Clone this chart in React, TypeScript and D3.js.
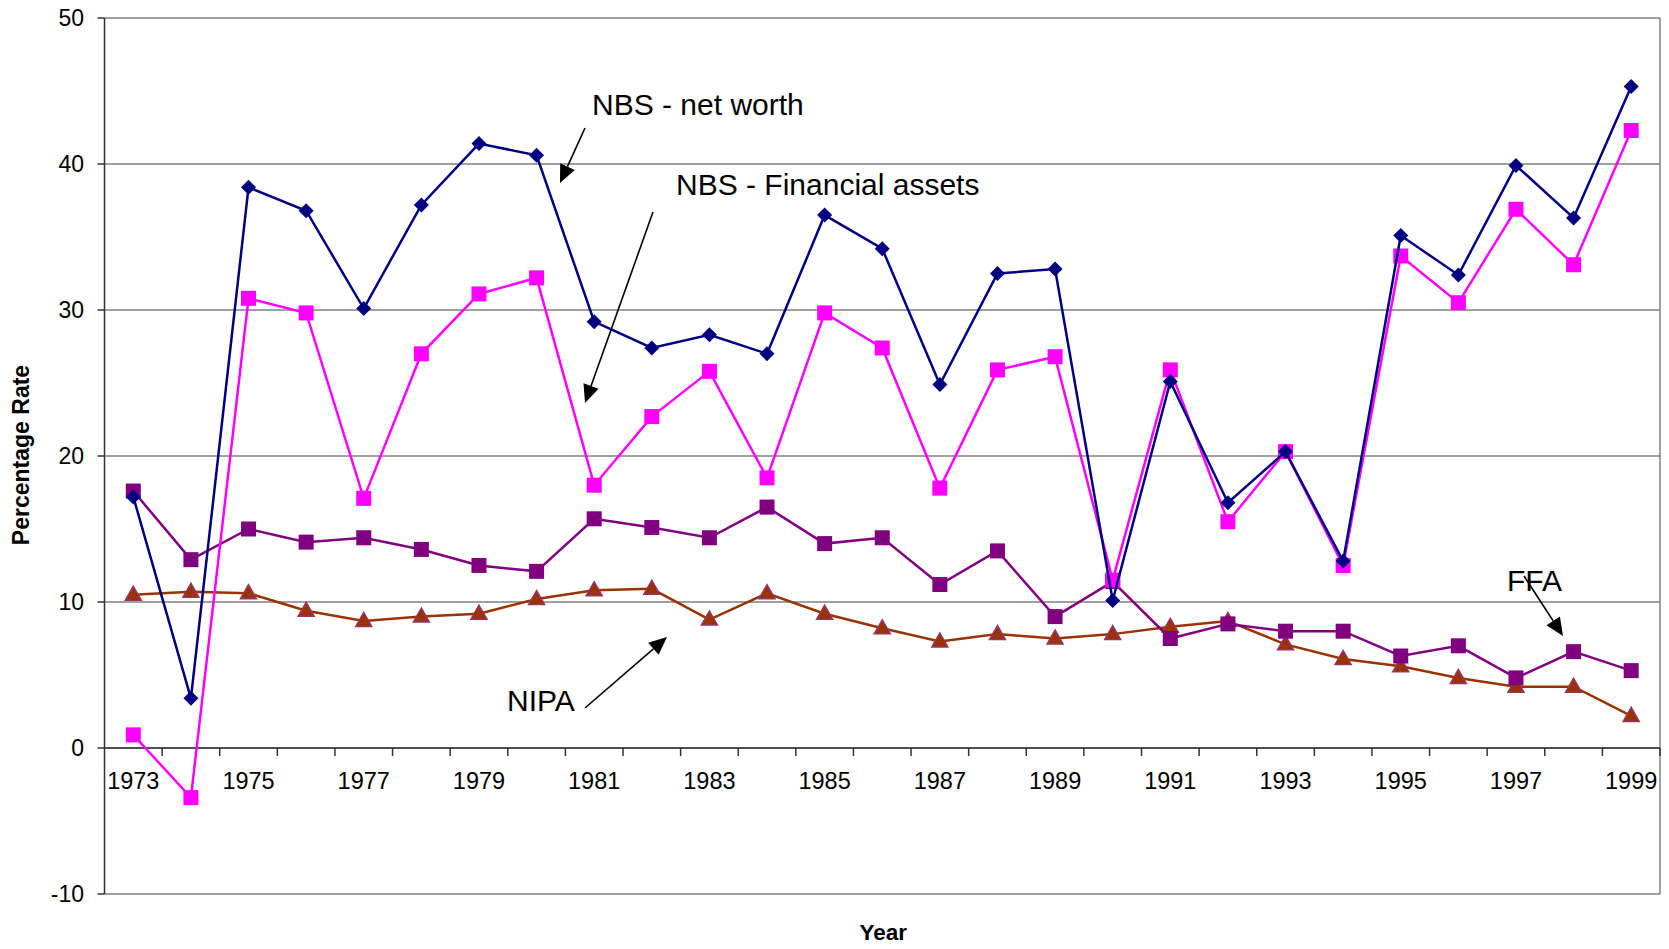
import React from "react";
import * as d3 from "d3";

const years = d3.range(1973, 2000).map(String);
const tickYears = years.filter((_, i) => i % 2 === 0);
const yTicks = [-10, 0, 10, 20, 30, 40, 50];

const netWorth = [17.2, 3.4, 38.4, 36.8, 30.1, 37.2, 41.4, 40.6, 29.2, 27.4, 28.3, 27.0, 36.5, 34.2, 24.9, 32.5, 32.8, 10.1, 25.1, 16.8, 20.3, 12.8, 35.1, 32.4, 39.9, 36.3, 45.3];
const finAssets = [0.9, -3.4, 30.8, 29.8, 17.1, 27.0, 31.1, 32.2, 18.0, 22.7, 25.8, 18.5, 29.8, 27.4, 17.8, 25.9, 26.8, 11.5, 25.9, 15.5, 20.3, 12.5, 33.7, 30.5, 36.9, 33.1, 42.3];
const ffa = [17.6, 12.9, 15.0, 14.1, 14.4, 13.6, 12.5, 12.1, 15.7, 15.1, 14.4, 16.5, 14.0, 14.4, 11.2, 13.5, 9.0, 11.4, 7.5, 8.5, 8.0, 8.0, 6.3, 7.0, 4.8, 6.6, 5.3];
const nipa = [10.5, 10.7, 10.6, 9.4, 8.7, 9.0, 9.2, 10.2, 10.8, 10.9, 8.8, 10.6, 9.2, 8.2, 7.3, 7.8, 7.5, 7.8, 8.3, 8.7, 7.1, 6.1, 5.6, 4.8, 4.2, 4.2, 2.2];

const W = 1669;
const H = 949;
const L = 104.5;
const R = 1660;
const T = 18;
const B = 894;
const FONT = "'Liberation Sans', Arial, sans-serif";

const x = d3.scaleBand<string>().domain(years).range([L, R]);
const y = d3.scaleLinear().domain([-10, 50]).range([B, T]);
const cx = (i: number) => (x(years[i]) as number) + x.bandwidth() / 2;

const line = d3
  .line<number>()
  .x((_, i) => cx(i))
  .y((d) => y(d));

function Arrow({ x1, y1, x2, y2 }: { x1: number; y1: number; x2: number; y2: number }) {
  const dx = x2 - x1;
  const dy = y2 - y1;
  const len = Math.hypot(dx, dy);
  const ux = dx / len;
  const uy = dy / len;
  const hl = 18;
  const hw = 8;
  const bx = x2 - ux * hl;
  const by = y2 - uy * hl;
  const pts = [
    [x2, y2],
    [bx - uy * hw, by + ux * hw],
    [bx + uy * hw, by - ux * hw],
  ];
  return (
    <g>
      <line x1={x1} y1={y1} x2={bx} y2={by} stroke="#000" strokeWidth={1.6} />
      <polygon points={pts.map((p) => p.join(",")).join(" ")} fill="#000" />
    </g>
  );
}

export default function App() {
  return (
    <svg
      width={W}
      height={H}
      style={{ position: "absolute", left: 0, top: 0, background: "#fff" }}
      fontFamily={FONT}
    >
      {yTicks.map((t) => (
        <line key={"g" + t} x1={L} x2={R} y1={y(t)} y2={y(t)} stroke="#808080" strokeWidth={1.5} />
      ))}
      <line x1={R} x2={R} y1={T} y2={B} stroke="#808080" strokeWidth={1.5} />
      <line x1={L} x2={L} y1={T} y2={B} stroke="#333" strokeWidth={1.5} />
      {yTicks.map((t) => (
        <g key={"yt" + t}>
          <line x1={L - 7} x2={L} y1={y(t)} y2={y(t)} stroke="#333" strokeWidth={1.5} />
          <text x={84} y={y(t)} textAnchor="end" dominantBaseline="central" fontSize={23} fill="#000">
            {t}
          </text>
        </g>
      ))}
      <line x1={L} x2={R} y1={y(0)} y2={y(0)} stroke="#333" strokeWidth={1.5} />
      {years.map((yr) => (
        <line
          key={"xt" + yr}
          x1={(x(yr) as number) + x.bandwidth()}
          x2={(x(yr) as number) + x.bandwidth()}
          y1={y(0)}
          y2={y(0) + 8}
          stroke="#333"
          strokeWidth={1.5}
        />
      ))}
      {tickYears.map((yr) => (
        <text
          key={"xl" + yr}
          x={(x(yr) as number) + x.bandwidth() / 2}
          y={789}
          textAnchor="middle"
          fontSize={23.5}
          fill="#000"
        >
          {yr}
        </text>
      ))}

      <text
        transform={`translate(29,${(T + B) / 2 - 1}) rotate(-90)`}
        textAnchor="middle"
        fontSize={23}
        fontWeight="bold"
      >
        Percentage Rate
      </text>
      <text x={(L + R) / 2 + 1} y={940} textAnchor="middle" fontSize={22.5} fontWeight="bold">
        Year
      </text>

      <path d={line(nipa) || ""} fill="none" stroke="#993300" strokeWidth={2.5} />
      {nipa.map((v, i) => {
        const px = cx(i);
        const py = y(v);
        return (
          <polygon
            key={"n" + i}
            points={`${px},${py - 8.5} ${px - 8},${py + 5.5} ${px + 8},${py + 5.5}`}
            fill="#993300"
            stroke="#993366"
            strokeWidth={1.5}
          />
        );
      })}

      <path d={line(ffa) || ""} fill="none" stroke="#800080" strokeWidth={2.5} />
      {ffa.map((v, i) => (
        <rect key={"f" + i} x={cx(i) - 7.5} y={y(v) - 7.5} width={15} height={15} fill="#800080" />
      ))}

      <path d={line(finAssets) || ""} fill="none" stroke="#FF00FF" strokeWidth={2.5} />
      {finAssets.map((v, i) => (
        <rect key={"fa" + i} x={cx(i) - 7.5} y={y(v) - 7.5} width={15} height={15} fill="#FF00FF" />
      ))}

      <path d={line(netWorth) || ""} fill="none" stroke="#000080" strokeWidth={2.5} />
      {netWorth.map((v, i) => {
        const px = cx(i);
        const py = y(v);
        return (
          <polygon
            key={"nw" + i}
            points={`${px},${py - 7.5} ${px + 7.5},${py} ${px},${py + 7.5} ${px - 7.5},${py}`}
            fill="#000080"
          />
        );
      })}

      <text x={592} y={115} fontSize={30}>NBS - net worth</text>
      <Arrow x1={585} y1={128} x2={560} y2={183} />
      <text x={676} y={195} fontSize={30}>NBS - Financial assets</text>
      <Arrow x1={653} y1={212} x2={585} y2={403} />
      <text x={507} y={711} fontSize={30}>NIPA</text>
      <Arrow x1={585} y1={708} x2={667} y2={637} />
      <text x={1507} y={591} fontSize={30}>FFA</text>
      <Arrow x1={1524} y1={576} x2={1563} y2={636} />
    </svg>
  );
}
